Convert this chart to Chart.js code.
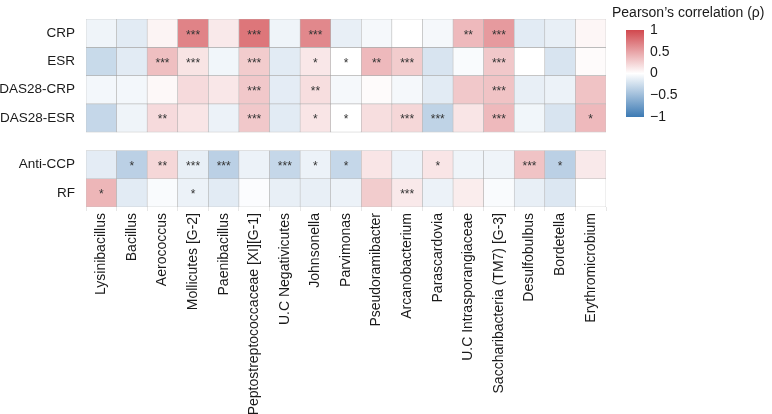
<!DOCTYPE html>
<html>
<head>
<meta charset="utf-8">
<script src="https://cdn.jsdelivr.net/npm/chart.js@4"></script>
<style>
  html, body { margin: 0; padding: 0; background: #fff; }
  #wrap { width: 772px; height: 414px; }
</style>
</head>
<body>
<div id="wrap"><canvas id="heat" width="772" height="414"></canvas></div>
<script>
// taxa on the x axis
const taxa = [
  'Lysinibacillus', 'Bacillus', 'Aerococcus', 'Mollicutes [G-2]', 'Paenibacillus',
  'Peptostreptococcaceae [XI][G-1]', 'U.C Negativicutes', 'Johnsonella', 'Parvimonas',
  'Pseudoramibacter', 'Arcanobacterium', 'Parascardovia', 'U.C Intrasporangiaceae',
  'Saccharibacteria (TM7) [G-3]', 'Desulfobulbus', 'Bordetella', 'Erythromicrobium'
];
const rowLabels = ['CRP', 'ESR', 'DAS28-CRP', 'DAS28-ESR', 'Anti-CCP', 'RF'];

// Pearson's rho per clinical variable
const crp     = [-0.08, -0.15, 0.06, 0.68, 0.12, 0.75, -0.08, 0.65, -0.12, -0.05, 0.00, -0.05, 0.38, 0.55, -0.15, -0.12, 0.05];
const esr     = [-0.28, -0.15, 0.35, 0.15, -0.07, 0.28, -0.15, 0.13, 0.00, 0.38, 0.28, -0.20, -0.03, 0.30, 0.00, -0.20, 0.02];
const das28crp = [-0.06, -0.06, 0.04, 0.20, 0.13, 0.30, -0.14, 0.18, -0.05, 0.02, -0.05, -0.15, 0.30, 0.33, -0.12, -0.10, 0.33];
const das28esr = [-0.30, -0.08, 0.20, 0.14, -0.10, 0.30, -0.15, 0.14, 0.00, 0.18, 0.22, -0.33, 0.14, 0.38, -0.07, -0.20, 0.38];
const antiCcp = [-0.14, -0.35, 0.22, -0.12, -0.35, -0.10, -0.30, -0.10, -0.30, 0.14, -0.10, 0.14, -0.08, -0.08, 0.33, -0.35, 0.12];
const rf      = [0.40, -0.15, -0.03, -0.10, -0.15, -0.02, -0.12, -0.12, -0.10, 0.28, 0.12, -0.10, 0.10, -0.03, -0.12, -0.18, 0.00];

// significance marks
const sigCrp     = ['', '', '', '***', '', '***', '', '***', '', '', '', '', '**', '***', '', '', ''];
const sigEsr     = ['', '', '***', '***', '', '***', '', '*', '*', '**', '***', '', '', '***', '', '', ''];
const sigDas28crp = ['', '', '', '', '', '***', '', '**', '', '', '', '', '', '***', '', '', ''];
const sigDas28esr = ['', '', '**', '', '', '***', '', '*', '*', '', '***', '***', '', '***', '', '', '*'];
const sigAntiCcp = ['', '*', '**', '***', '***', '', '***', '*', '*', '', '', '*', '', '', '***', '*', ''];
const sigRf      = ['*', '', '', '*', '', '', '', '', '', '', '***', '', '', '', '', '', ''];

const legendTicks = [1, 0.5, 0, -0.5, -1];

const values = [crp, esr, das28crp, das28esr, antiCcp, rf];
const sigs = [sigCrp, sigEsr, sigDas28crp, sigDas28esr, sigAntiCcp, sigRf];

// row placement: two facets with a gap between them
const gap = 0.65;
const rowStart = rowLabels.map((_, i) => i < 4 ? i : i + gap);
const yMax = rowLabels.length + gap;

const RED = [209, 72, 78], BLUE = [60, 122, 180];
function rhoColor(v) {
  const c = v >= 0 ? RED : BLUE, t = Math.min(1, Math.abs(v));
  const m = c.map(k => Math.round(255 + (k - 255) * t));
  return `rgb(${m[0]},${m[1]},${m[2]})`;
}

const datasets = rowLabels.map((name, r) => ({
  label: name,
  data: values[r].map(() => [rowStart[r], rowStart[r] + 1]),
  backgroundColor: values[r].map(rhoColor),
  borderColor: 'rgba(150,150,150,0.6)',
  borderWidth: 0.6,
  borderSkipped: false,
  barPercentage: 1,
  categoryPercentage: 1,
  grouped: false
}));

const FONT = '"Liberation Sans", Arial, sans-serif';

const starsPlugin = {
  id: 'stars',
  afterDatasetsDraw(chart) {
    const ctx = chart.ctx, y = chart.scales.y;
    ctx.save();
    ctx.fillStyle = '#333';
    ctx.font = '12px ' + FONT;
    ctx.textAlign = 'center';
    ctx.textBaseline = 'middle';
    chart.data.datasets.forEach((ds, r) => {
      const meta = chart.getDatasetMeta(r);
      const cy = y.getPixelForValue(rowStart[r] + 0.5);
      sigs[r].forEach((s, i) => {
        if (s) ctx.fillText(s, meta.data[i].x, cy + 2);
      });
    });
    ctx.restore();
  }
};

const legendPlugin = {
  id: 'rhoLegend',
  afterDraw(chart) {
    const ctx = chart.ctx;
    const x0 = 626, w = 18, top = 30, bottom = 117;
    ctx.save();
    ctx.fillStyle = '#1a1a1a';
    ctx.font = '14px ' + FONT;
    ctx.textAlign = 'left';
    ctx.textBaseline = 'middle';
    ctx.fillText('Pearson\u2019s correlation (\u03c1)', 612, 13);
    const g = ctx.createLinearGradient(0, top, 0, bottom);
    g.addColorStop(0, rhoColor(1));
    g.addColorStop(0.25, rhoColor(0.5));
    g.addColorStop(0.5, '#ffffff');
    g.addColorStop(0.75, rhoColor(-0.5));
    g.addColorStop(1, rhoColor(-1));
    ctx.fillStyle = g;
    ctx.fillRect(x0, top, w, bottom - top);
    ctx.fillStyle = '#1a1a1a';
    legendTicks.forEach(v => {
      const py = top + (1 - v) / 2 * (bottom - top);
      ctx.fillText(String(v).replace('-', '\u2212'), x0 + w + 6, py);
    });
    ctx.restore();
  }
};

new Chart(document.getElementById('heat'), {
  type: 'bar',
  data: { labels: taxa, datasets },
  options: {
    responsive: false,
    animation: false,
    layout: { padding: { top: 3, right: 166, left: 0, bottom: 0 } },
    plugins: { legend: { display: false }, tooltip: { enabled: false } },
    scales: {
      x: {
        grid: { display: true, drawOnChartArea: false, tickLength: 4, color: '#e6e6e6' },
        border: { display: false },
        ticks: {
          autoSkip: false, maxRotation: 90, minRotation: 90, padding: 2,
          color: '#1a1a1a', font: { family: FONT, size: 14 }
        },
        afterFit(scale) { scale.height = 207; }
      },
      y: {
        type: 'linear',
        reverse: true,
        min: 0,
        max: yMax,
        grid: { display: false, drawTicks: false },
        border: { display: false },
        afterBuildTicks(scale) {
          scale.ticks = rowStart.map(v => ({ value: v + 0.5 }));
        },
        ticks: {
          padding: 11,
          color: '#1a1a1a',
          font: { family: FONT, size: 13.5 },
          callback: (v, i) => rowLabels[i]
        },
        afterFit(scale) { scale.width = 86; }
      }
    }
  },
  plugins: [starsPlugin, legendPlugin]
});
</script>
</body>
</html>
